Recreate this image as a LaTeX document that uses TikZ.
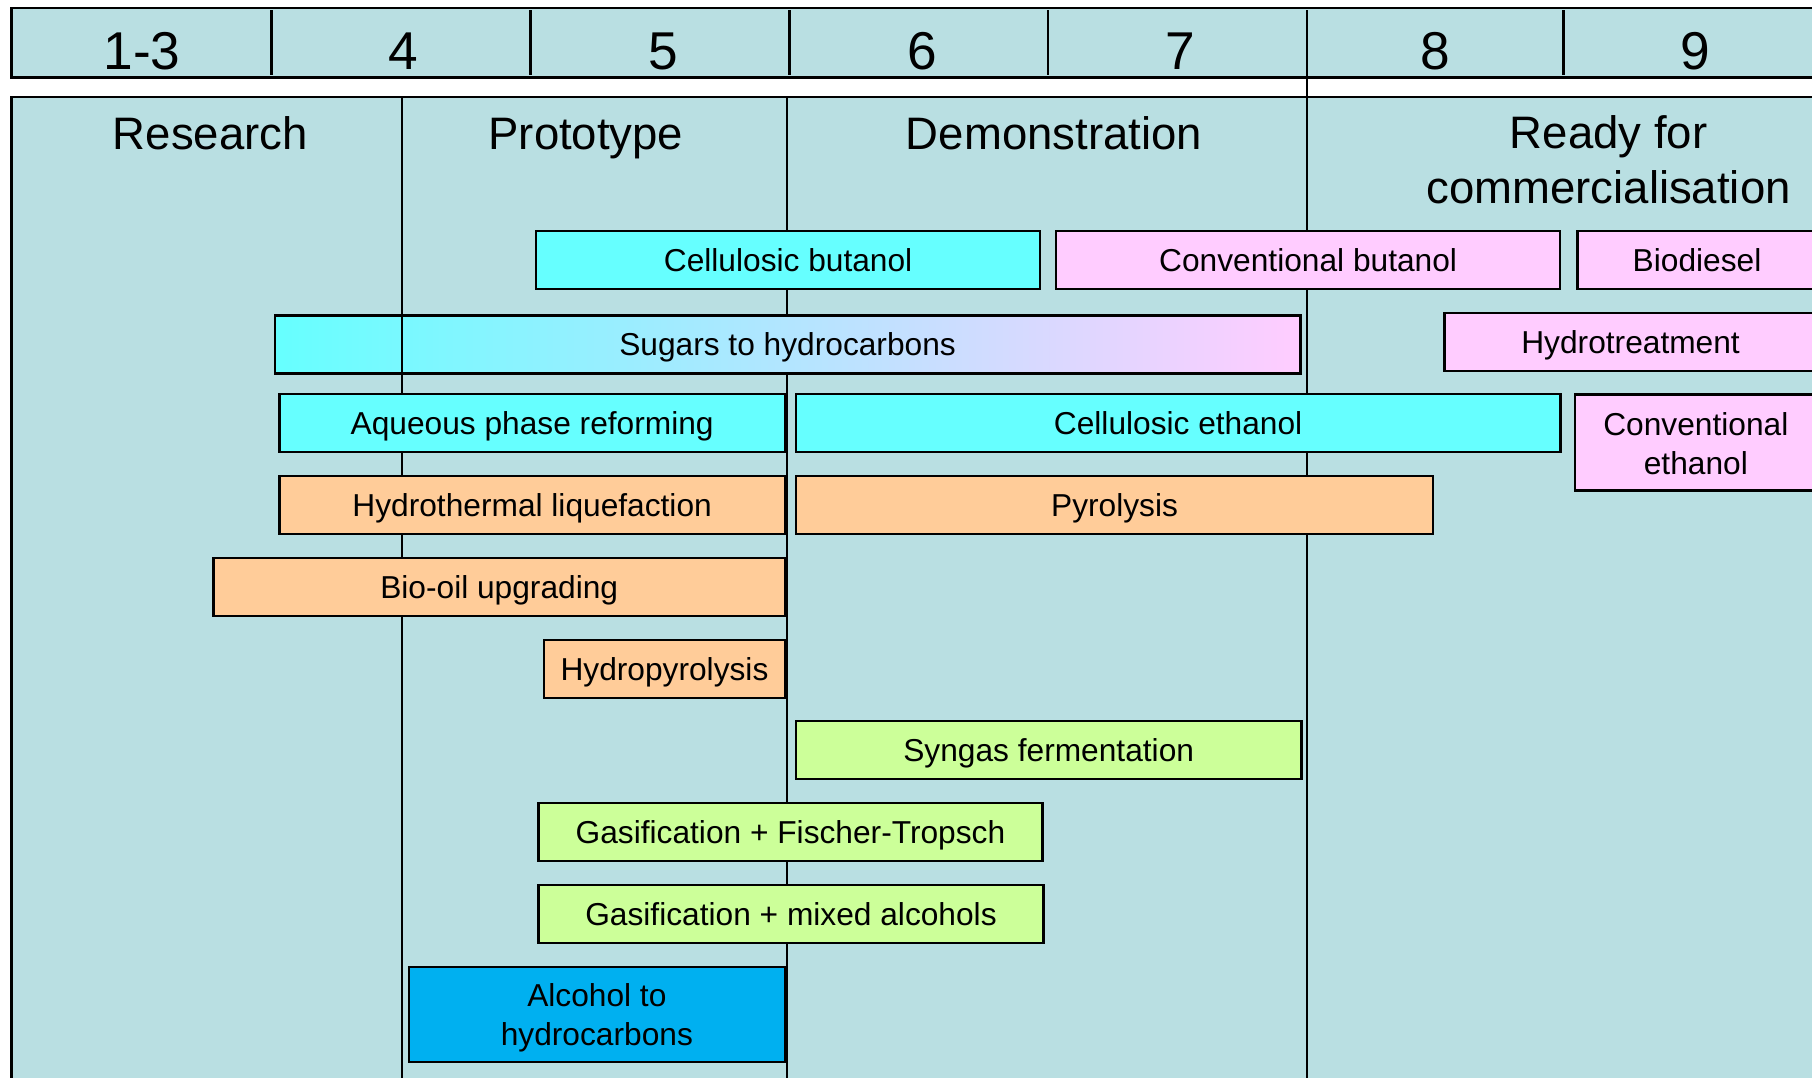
\documentclass[tikz,border=0pt]{standalone}
\usepackage{fontspec}
\setmainfont{Liberation Sans}
\usetikzlibrary{positioning}

\definecolor{phasebg}{HTML}{B9DFE2}
\definecolor{cellcyan}{HTML}{66FFFF}
\definecolor{convpink}{HTML}{FFCCFF}
\definecolor{thermorange}{HTML}{FFCC99}
\definecolor{gasgreen}{HTML}{CCFF99}
\definecolor{alcblue}{HTML}{00B0F0}

\begin{document}
\begin{tikzpicture}[
  x=0.01cm, y=-0.01cm,
  every node/.style={inner sep=0pt},
  rule/.style={line width=0.6pt},
  trl/.style={font=\fontsize{13.1}{15}\selectfont, anchor=base},
  phase/.style={font=\fontsize{11.2}{13.5}\selectfont, align=center, anchor=base},
  techbox/.style={draw, line width=0.6pt, align=center,
    font=\fontsize{7.8}{9.6}\selectfont, minimum height=0.50cm},
  tech/.style={techbox, text height=5.6pt, text depth=0pt},
]

% ── Frame ─────────────────────────────────────────────────────────────────────
\useasboundingbox (0,0) rectangle (1568,932);
\clip (0,0) rectangle (1568,932);

% ── TRL band (top) ────────────────────────────────────────────────────────────
\draw[rule, fill=phasebg] (10,7) rectangle (1600,67);
\foreach \xd in {235,459,683,907,1353}
  \draw[rule] (\xd,9) -- (\xd,65);
\draw[rule] (1131,9) -- (1131,84);

\node[trl] (t13) at (123,60) {1-3};
\node[trl] (t4)  at (349,60) {4};
\node[trl] (t5)  at (574,60) {5};
\node[trl] (t6)  at (798,60) {6};
\node[trl] (t7)  at (1021,60) {7};
\node[trl] (t8)  at (1242,60) {8};
\node[trl] (t9)  at (1467,60) {9};

% ── Phase area ────────────────────────────────────────────────────────────────
\draw[rule, fill=phasebg] (10,84) rectangle (1600,960);
\foreach \xd in {348,681,1131}
  \draw[rule] (\xd,84) -- (\xd,960);

\node[phase] (research) at (182,129) {Research};
\node[phase] (proto)    at (507,129) {Prototype};
\node[phase] (demo)     at (912,129) {Demonstration};
\node[phase, anchor=north] (ready) at (1392,99)
  {Ready for\\commercialisation};

% ── Technologies ──────────────────────────────────────────────────────────────
% row 1
\node[tech, fill=cellcyan, minimum width=4.36cm] (cbut) at (682,225) {Cellulosic butanol};
\node[tech, fill=convpink, minimum width=4.36cm] (vbut) at (1132,225) {Conventional butanol};
\node[tech, fill=convpink, minimum width=2.07cm] (bdsl) at (1468.5,225) {Biodiesel};

% row 2
\node[tech, left color=cellcyan, right color=convpink, minimum width=8.87cm]
  (sugr) at (681.5,298) {Sugars to hydrocarbons};
\node[tech, fill=convpink, minimum width=3.22cm] (hydt) at (1411,296) {Hydrotreatment};
% the Research / Prototype rule shows through this bar
\draw[rule] (348,0 |- sugr.north) -- (348,0 |- sugr.south);

% row 3
\node[tech, fill=cellcyan, minimum width=4.37cm] (aqph) at (460.5,366) {Aqueous phase reforming};
\node[tech, fill=cellcyan, minimum width=6.61cm] (ceth) at (1019.5,366) {Cellulosic ethanol};
\node[techbox, fill=convpink, minimum width=2.09cm, minimum height=0.83cm]
  (veth) at (1467.5,383) {\rule{0pt}{6.4pt}Conventional\\ethanol};

% row 4
\node[tech, fill=thermorange, minimum width=4.37cm] (htlq) at (460.5,437) {Hydrothermal liquefaction};
\node[tech, fill=thermorange, minimum width=5.51cm] (pyro) at (964.5,437) {Pyrolysis};

% rows 5 to 10
\node[tech, fill=thermorange, minimum width=4.94cm] (boil) at (432,508) {Bio-oil upgrading};
\node[tech, fill=thermorange, minimum width=2.08cm] (hpyr) at (575,579) {Hydropyrolysis};
\node[tech, fill=gasgreen, minimum width=4.37cm] (synf) at (907.5,649) {Syngas fermentation};
\node[tech, fill=gasgreen, minimum width=4.36cm] (gsft) at (684,720) {Gasification + Fischer-Tropsch};
\node[tech, fill=gasgreen, minimum width=4.37cm] (gsma) at (684.5,791) {Gasification + mixed alcohols};
\node[techbox, fill=alcblue, minimum width=3.25cm, minimum height=0.82cm]
  (alhc) at (516.5,878) {\rule{0pt}{7.4pt}Alcohol to\\hydrocarbons};

\end{tikzpicture}
\end{document}
